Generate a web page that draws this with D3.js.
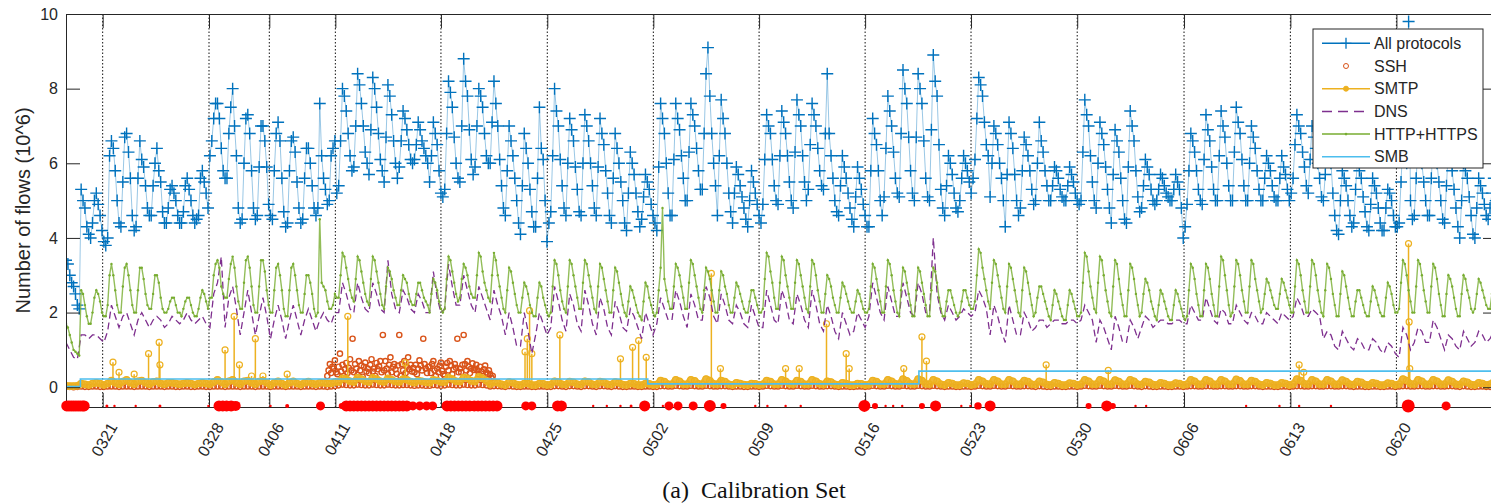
<!DOCTYPE html>
<html>
<head>
<meta charset="utf-8">
<script src="https://cdn.jsdelivr.net/npm/d3@7"></script>
<style>
  body { margin: 0; background: #fff; }
  svg text { font-family: "Liberation Sans", Arial, sans-serif; fill: #262626; }
</style>
</head>
<body>
<svg id="chart" width="1491" height="504"></svg>
<script>
// x is measured in days of the (gapped) capture index
const fineSamplesPerDay = 8;   // all protocols, http
const samplesPerDay = 4;       // dns, smtp, ssh
const tickDays = [2.42, 9.44, 13.42, 17.78, 24.75, 31.77, 38.77, 45.75, 52.75, 59.74, 66.75, 73.8, 80.82, 87.82];
const tickLabels = ["0321", "0328", "0406", "0411", "0418", "0425", "0502", "0509", "0516", "0523", "0530", "0606", "0613", "0620"];
const yTicks = [0, 2, 4, 6, 8, 10];

// All protocols (10^6 flows), one row per day, 3-hourly
const allProtocols = [
  3.4,3.3,3.0,2.8,2.7,2.5,2.2,2.1, 5.3,5.0,4.8,4.3,4.1,4.0,4.4,5.0, 5.2,4.9,4.6,4.2,3.9,3.8,4.0,6.2,
  6.6,6.4,5.8,5.0,4.4,4.3,5.5,6.7, 6.8,6.3,5.6,4.6,4.2,4.3,5.6,6.6, 6.1,5.9,5.4,4.8,4.6,4.6,5.4,6.0,
  6.4,5.8,5.5,4.7,4.4,4.4,4.8,5.3, 5.4,5.2,5.0,4.6,4.4,4.4,4.7,5.4, 5.6,5.3,5.0,4.6,4.4,4.5,4.6,5.6,
  5.8,5.5,5.2,4.8,6.2,6.6,7.2,7.6, 7.6,7.2,6.4,5.8,5.6,5.6,6.8,7.5, 8.0,7.0,6.2,4.8,4.4,4.5,6.0,7.2,
  7.3,6.8,5.8,4.8,4.5,4.6,5.9,7.0, 7.0,6.6,5.9,4.9,4.6,4.5,5.8,6.8, 7.1,6.6,5.6,4.7,4.3,4.4,5.8,6.6,
  6.7,6.3,5.5,4.8,4.4,4.5,5.6,6.4, 6.4,6.0,5.4,4.8,4.6,4.8,7.6,6.2, 5.6,5.3,4.9,5.0,6.2,6.4,6.6,5.2,
  5.4,6.6,8.0,7.8,7.4,6.8,6.2,5.8, 5.9,7.0,8.4,8.1,7.6,7.0,6.3,6.0, 5.7,6.9,8.3,8.0,7.5,6.8,6.1,5.8,
  5.5,6.7,8.1,7.8,7.3,6.6,6.0,5.6, 5.9,6.6,7.4,7.2,6.9,6.5,6.1,6.0, 6.1,6.5,7.1,6.9,6.6,6.4,6.2,6.0,
  5.5,6.2,7.1,6.8,6.5,5.8,5.2,5.1, 5.3,6.8,8.2,7.9,7.5,6.7,6.0,5.6, 5.5,7.0,8.8,8.2,7.8,6.9,6.1,5.7,
  5.9,7.0,8.0,7.8,7.5,6.8,6.2,6.0, 6.0,7.1,8.2,7.6,7.0,6.1,5.4,4.8, 4.6,5.8,7.0,6.6,6.2,5.6,5.0,4.4,
  4.1,5.4,6.8,6.4,6.0,5.3,4.7,4.3, 4.3,5.6,7.5,6.4,6.1,5.0,3.9,4.4, 4.7,6.2,8.0,7.4,7.0,6.1,5.4,4.8,
  4.6,6.0,7.2,6.9,6.6,5.9,5.3,4.7, 4.6,6.0,7.3,7.0,6.6,6.0,5.4,4.8, 4.6,5.9,7.2,6.8,6.5,5.8,5.2,4.6,
  4.4,5.6,6.8,6.4,6.0,5.5,5.0,4.4, 4.2,5.2,6.3,6.0,5.7,5.2,4.7,4.3, 4.5,5.1,5.7,5.5,5.3,4.9,4.6,4.4,
  4.2,5.9,7.6,7.2,6.8,6.0,5.2,4.6, 4.6,6.1,7.6,7.2,6.9,6.2,5.6,5.0, 5.0,6.3,7.6,7.3,7.0,6.4,5.8,5.3,
  5.3,6.8,8.4,9.1,7.8,6.8,6.0,5.4, 4.6,6.2,7.7,7.2,6.8,6.0,5.2,4.7, 4.4,5.2,5.9,5.7,5.4,5.1,4.8,4.5,
  4.3,5.0,5.8,5.5,5.2,4.9,4.6,4.4, 4.9,6.1,7.3,7.0,6.8,6.1,5.4,5.0, 4.9,6.2,7.4,7.1,6.8,6.2,5.5,5.0,
  4.8,6.3,7.7,7.3,7.0,6.2,5.5,5.0, 5.3,6.5,7.6,7.3,7.0,6.4,5.8,5.4, 5.3,6.8,8.4,6.8,6.2,5.6,5.0,4.7,
  4.6,5.4,6.2,5.9,5.6,5.2,4.8,4.5, 4.3,5.1,5.9,5.6,5.3,4.9,4.6,4.3, 4.3,5.8,7.2,6.8,6.5,5.8,5.0,4.6,
  5.1,6.4,7.8,7.4,7.0,6.3,5.6,5.2, 5.1,6.8,8.5,8.0,7.6,6.7,5.8,5.2, 5.0,6.7,8.4,8.0,7.6,6.6,5.6,5.1,
  5.0,6.9,8.9,8.2,7.8,6.5,5.3,4.8, 4.6,5.4,6.2,6.0,5.7,5.2,4.8,4.7, 5.0,5.6,6.2,6.0,5.8,5.5,5.2,5.6,
  6.1,7.2,8.3,8.1,7.8,7.1,6.5,6.2, 5.1,6.0,7.0,6.8,6.5,6.0,5.6,5.0, 4.3,5.7,7.1,6.8,6.4,5.7,5.0,4.6,
  4.8,5.8,6.7,6.5,6.2,5.8,5.3,4.9, 5.0,6.0,7.1,6.6,6.3,5.8,5.4,5.0, 5.0,5.4,5.9,5.8,5.6,5.3,5.1,5.0,
  5.0,5.4,5.9,5.7,5.5,5.2,5.0,4.9, 5.0,6.3,7.7,7.3,7.0,6.2,5.5,5.0, 4.8,6.0,7.1,6.8,6.5,5.9,5.3,4.8,
  4.4,5.7,6.9,6.6,6.3,5.6,5.0,4.5, 4.4,5.9,7.4,7.0,6.6,5.8,5.1,4.7, 4.8,5.4,6.1,5.9,5.7,5.3,5.0,4.9,
  5.0,5.3,5.7,5.6,5.4,5.2,5.1,5.0, 5.0,5.3,5.7,5.5,5.3,4.8,4.0,4.3, 4.9,5.8,6.8,6.6,6.3,5.8,5.3,5.0,
  4.9,6.1,7.3,6.9,6.6,5.9,5.3,5.0, 5.0,6.2,7.4,7.0,6.7,6.0,5.4,5.0, 5.0,6.3,7.5,7.1,6.8,6.1,5.4,5.0,
  5.0,6.0,7.0,6.7,6.4,5.8,5.3,5.0, 5.0,5.6,6.2,6.0,5.8,5.4,5.1,5.0, 5.0,5.6,6.2,5.9,5.7,5.3,5.0,5.2,
  5.6,6.5,7.3,7.0,6.8,6.3,5.9,5.4, 5.2,6.1,7.0,6.7,6.4,6.0,5.6,5.1, 5.0,5.7,6.4,6.2,6.0,5.2,4.6,4.2,
  4.1,5.0,5.8,5.6,5.4,5.0,4.6,4.3, 4.4,5.3,6.1,5.8,5.6,5.1,4.7,4.3, 4.2,4.9,5.6,5.4,5.2,4.8,4.4,4.2,
  4.2,4.8,5.3,5.2,5.0,4.6,4.3,4.3, 4.4,5.5,6.6,6.3,6.0,9.8,5.0,4.5, 4.6,5.6,6.5,6.3,6.0,5.5,5.0,4.6,
  4.6,5.6,6.6,6.3,6.0,5.5,5.0,4.5, 4.4,5.4,6.4,6.1,5.8,5.3,4.8,4.3, 4.0,5.0,6.0,5.8,5.6,5.1,4.6,4.1,
  4.0,4.8,5.6,5.4,5.2,4.9,4.6,4.5, 4.8,5.2,5.6,5.0,4.6
];

const httpHttps = [
  1.7,1.6,1.4,1.2,1.0,0.95,0.9,0.85, 2.6,2.5,2.2,1.9,1.7,1.7,2.0,2.4, 2.6,2.5,2.3,2.0,1.9,1.9,2.2,3.0,
  3.3,3.0,2.6,2.2,2.0,2.0,2.7,3.2, 3.3,3.0,2.6,2.2,2.0,2.0,2.6,3.2, 3.2,2.9,2.5,2.2,2.1,2.1,2.5,3.0,
  3.0,2.8,2.4,2.1,2.0,2.0,2.1,2.3, 2.4,2.4,2.2,2.0,2.0,1.9,2.1,2.3, 2.4,2.4,2.2,2.0,1.9,1.9,2.1,2.4,
  2.6,2.5,2.3,2.1,2.4,2.4,3.0,3.3, 3.4,3.2,2.7,2.5,2.4,2.4,2.9,3.3, 3.5,3.2,2.7,2.3,2.1,2.1,2.8,3.4,
  3.5,3.2,2.7,2.2,2.0,2.0,2.7,3.4, 3.4,3.1,2.6,2.2,2.0,2.0,2.6,3.2, 3.3,3.0,2.6,2.1,1.9,1.9,2.6,3.2,
  3.3,3.0,2.6,2.2,2.0,2.0,2.5,3.0, 3.0,2.8,2.5,2.1,1.9,2.0,4.5,2.8, 2.7,2.6,2.3,2.1,2.1,2.2,2.5,2.4,
  2.4,3.0,3.6,3.5,3.2,2.9,2.6,2.4, 2.3,2.9,3.5,3.4,3.1,2.8,2.5,2.3, 2.2,2.9,3.5,3.4,3.1,2.8,2.5,2.2,
  2.1,2.7,3.2,3.1,2.9,2.6,2.4,2.2, 2.2,2.6,3.0,2.9,2.8,2.5,2.3,2.2, 2.2,2.5,2.8,2.8,2.6,2.4,2.3,2.2,
  2.0,2.5,2.9,2.8,2.6,2.3,2.1,2.0, 2.1,2.9,3.5,3.4,3.1,2.8,2.5,2.3, 2.4,2.9,3.3,3.2,3.0,2.7,2.5,2.4,
  2.4,3.0,3.6,3.5,3.1,2.8,2.6,2.4, 2.3,3.0,3.6,3.4,3.0,2.7,2.4,2.1, 2.0,2.6,3.2,3.1,2.8,2.5,2.2,2.0,
  2.0,2.4,2.8,2.7,2.5,2.2,2.0,1.9, 1.9,2.4,2.8,2.7,2.4,2.2,2.0,1.9, 2.0,2.7,3.4,3.3,3.0,2.6,2.3,2.1,
  2.0,2.7,3.4,3.3,3.0,2.7,2.4,2.1, 2.1,2.8,3.4,3.3,3.0,2.7,2.4,2.1, 2.0,2.7,3.3,3.2,2.9,2.6,2.3,2.0,
  2.0,2.6,3.2,3.1,2.8,2.5,2.2,2.0, 1.9,2.3,2.7,2.6,2.4,2.2,2.0,1.9, 1.8,2.3,2.8,2.7,2.4,2.2,2.0,1.9,
  2.0,2.6,3.2,4.8,2.9,2.6,2.3,2.1, 2.1,2.7,3.3,3.2,3.0,2.7,2.4,2.1, 2.1,2.8,3.4,3.3,3.0,2.7,2.4,2.1,
  2.0,2.6,3.2,3.1,2.9,2.6,2.3,2.0, 2.0,2.6,3.1,3.0,2.7,2.5,2.2,2.0, 2.0,2.4,2.8,2.7,2.5,2.3,2.1,2.0,
  2.0,2.3,2.6,2.6,2.4,2.2,2.0,2.0, 2.1,2.9,3.6,3.5,3.1,2.8,2.4,2.1, 2.1,2.8,3.5,3.4,3.0,2.7,2.4,2.1,
  2.1,2.8,3.4,3.3,3.0,2.7,2.4,2.1, 2.0,2.7,3.4,3.3,3.0,2.6,2.3,2.0, 2.0,2.5,3.0,2.9,2.7,2.4,2.2,2.0,
  2.0,2.4,2.8,2.7,2.5,2.3,2.1,2.0, 2.0,2.3,2.6,2.5,2.3,2.1,2.0,2.0, 2.1,2.7,3.3,3.2,2.9,2.6,2.3,2.0,
  2.0,2.7,3.4,3.3,3.0,2.6,2.3,2.0, 1.9,2.6,3.2,3.1,2.8,2.5,2.2,1.9, 1.9,2.6,3.2,3.1,2.8,2.5,2.2,1.9,
  1.9,2.6,3.2,3.1,2.8,2.4,2.1,1.9, 1.9,2.3,2.6,2.6,2.4,2.2,2.0,1.9, 2.0,2.3,2.6,2.6,2.4,2.2,2.1,2.1,
  2.3,3.0,3.7,3.6,3.2,2.9,2.6,2.3, 2.1,2.8,3.4,3.3,3.0,2.7,2.4,2.1, 2.0,2.7,3.3,3.2,2.9,2.6,2.3,2.0,
  1.9,2.6,3.2,3.1,2.8,2.5,2.2,1.9, 2.0,2.4,2.7,2.7,2.5,2.3,2.1,1.9, 1.8,2.2,2.6,2.5,2.3,2.1,1.9,1.8,
  1.8,2.2,2.6,2.5,2.3,2.1,1.9,1.9, 2.0,2.8,3.6,3.5,3.1,2.7,2.4,2.1, 2.0,2.8,3.5,3.4,3.0,2.6,2.3,2.0,
  1.9,2.7,3.4,3.3,2.9,2.5,2.2,1.9, 1.9,2.6,3.3,3.2,2.9,2.5,2.2,1.9, 2.0,2.5,2.9,2.8,2.6,2.3,2.1,1.9,
  1.8,2.2,2.6,2.5,2.3,2.1,1.9,1.8, 1.8,2.2,2.6,2.5,2.3,2.1,1.9,1.8, 1.9,2.6,3.3,3.2,2.9,2.5,2.2,1.9,
  1.9,2.6,3.3,3.2,2.9,2.5,2.2,1.9, 1.9,2.7,3.5,3.4,3.0,2.6,2.2,1.9, 2.0,2.7,3.4,3.3,3.0,2.6,2.3,2.0,
  2.0,2.7,3.4,3.3,2.9,2.6,2.3,2.0, 2.1,2.5,2.9,2.8,2.6,2.4,2.2,2.1, 2.1,2.5,2.9,2.8,2.6,2.4,2.2,2.0,
  2.0,2.7,3.4,3.3,3.0,2.6,2.3,2.0, 2.0,2.7,3.4,3.3,3.0,2.6,2.3,2.0, 1.9,2.6,3.3,3.2,2.9,2.5,2.2,1.9,
  1.9,2.5,3.1,3.0,2.7,2.4,2.1,1.9, 1.9,2.3,2.6,2.6,2.4,2.2,2.0,1.9, 1.9,2.3,2.7,2.6,2.4,2.2,2.0,1.9,
  1.9,2.4,2.8,2.7,2.5,2.2,2.0,2.0, 2.1,2.8,3.4,3.3,3.0,2.6,2.3,2.0, 2.0,2.7,3.4,3.3,3.0,2.6,2.3,2.0,
  2.0,2.7,3.3,3.2,2.9,2.5,2.2,1.9, 1.9,2.5,3.0,2.9,2.7,2.4,2.1,1.9, 1.9,2.5,3.0,2.9,2.6,2.4,2.1,2.0,
  2.1,2.5,2.9,2.8,2.6,2.4,2.2,2.1, 2.1,2.5,2.9,2.6,2.2
];

const dns = [
  1.2,1.0,0.8,0.75, 1.4,1.4,1.3,1.4, 1.4,1.3,1.2,1.5, 2.2,1.9,1.6,1.9, 2.0,1.7,1.4,1.8,
  2.0,1.8,1.6,1.8, 1.9,1.8,1.6,1.7, 1.9,1.8,1.7,1.8, 2.0,1.8,1.7,1.8, 1.9,1.7,1.6,2.5,
  2.8,3.5,1.6,2.4, 2.7,2.1,1.4,2.0, 2.6,2.0,1.4,1.9, 2.4,1.9,1.3,1.8, 2.2,1.8,1.3,1.8,
  2.2,1.8,1.4,1.8, 2.1,1.8,1.5,1.8, 2.0,1.8,1.7,2.0, 2.0,2.8,2.5,2.1, 2.0,2.8,2.4,2.1,
  2.0,2.8,2.5,2.1, 2.0,3.4,2.5,2.1, 2.0,2.6,2.4,2.1, 2.0,2.5,2.3,2.0, 2.0,3.1,2.4,2.0,
  2.1,3.3,2.7,2.2, 2.2,3.0,2.6,2.2, 2.0,2.7,2.4,2.1, 1.8,2.6,2.2,1.9, 1.4,2.0,1.6,1.1,
  1.1,2.0,1.5,0.9, 1.4,2.0,1.7,1.4, 1.6,2.7,2.3,1.8, 1.5,2.5,2.2,1.7, 1.5,2.6,2.2,1.7,
  1.4,2.4,2.1,1.6, 1.4,2.3,2.0,1.6, 1.5,2.1,1.9,1.6, 1.3,2.0,1.7,1.4, 1.7,2.4,2.1,1.8,
  1.8,2.6,2.3,1.9, 1.6,2.5,2.2,1.8, 1.8,2.7,2.4,1.9, 1.7,2.5,2.2,1.8, 1.7,2.2,2.0,1.7,
  1.6,2.2,1.9,1.6, 1.6,2.6,2.2,1.8, 1.7,2.6,2.3,1.8, 1.7,2.5,2.2,1.8, 1.6,2.6,2.2,1.7,
  1.5,2.2,1.9,1.5, 1.3,2.0,1.7,1.4, 1.5,2.0,1.8,1.6, 1.9,2.8,2.4,2.0, 1.8,2.7,2.3,1.9,
  1.9,2.8,2.4,2.0, 1.9,2.8,2.5,2.0, 2.0,4.0,2.5,2.0, 1.8,2.2,2.0,1.8, 1.9,2.1,2.0,1.9,
  2.0,2.6,2.4,2.1, 1.4,2.2,1.9,1.5, 1.2,2.2,1.8,1.4, 1.4,2.0,1.8,1.5, 1.6,1.8,1.8,1.6,
  1.7,1.8,1.8,1.7, 1.7,1.8,1.8,1.7, 1.8,2.2,2.0,1.8, 1.2,1.8,1.6,1.3, 1.0,1.9,1.6,1.2,
  1.2,1.8,1.6,1.3, 1.6,1.9,1.8,1.6, 1.7,1.8,1.8,1.7, 1.7,1.8,1.8,1.7, 1.7,2.2,2.0,1.8,
  1.8,2.4,2.1,1.8, 1.7,2.1,2.0,1.7, 1.7,2.2,2.0,1.8, 1.7,2.0,1.9,1.7, 1.7,2.0,1.9,1.8,
  1.7,2.0,1.9,1.8, 1.9,2.4,2.2,1.9, 1.9,2.1,2.0,1.9, 1.3,1.5,1.4,1.1, 1.0,1.5,1.3,1.1,
  1.0,1.3,1.2,1.0, 1.0,1.3,1.2,1.0, 0.9,1.2,1.1,0.9, 0.8,1.6,1.4,1.0, 1.2,1.6,1.5,1.2,
  1.2,1.8,1.6,1.3, 1.0,1.4,1.3,1.1, 1.0,1.5,1.3,1.1, 1.2,1.5,1.4,1.2, 1.3,1.5,1.3
];

const smtp = [
  .04,.03,.03,.04, .1,.08,.06,.1, .12,.1,.06,.1, .18,.12,.08,.15, .2,.12,.08,.16,
  .18,.12,.08,.14, .16,.1,.08,.12, .12,.1,.08,.1, .12,.1,.07,.1, .12,.1,.08,.14,
  .2,.14,.08,.16, .2,.12,.08,.16, .18,.12,.08,.15, .18,.12,.06,.12, .16,.1,.06,.12,
  .16,.1,.07,.12, .15,.1,.08,.12, .12,.1,.1,.14, .14,.24,.22,.16, .14,.26,.22,.16,
  .14,.25,.22,.16, .14,.24,.2,.15, .14,.22,.2,.15, .12,.18,.16,.13, .12,.2,.18,.14,
  .14,.26,.22,.16, .15,.26,.24,.17, .15,.28,.24,.17, .08,.14,.12,.08, .06,.14,.12,.07,
  .06,.1,.1,.06, .06,.1,.09,.06, .07,.16,.14,.08, .07,.15,.13,.08, .07,.16,.14,.08,
  .07,.15,.13,.08, .07,.14,.12,.07, .06,.1,.09,.06, .06,.1,.09,.06, .07,.18,.15,.08,
  .08,.2,.16,.08, .08,.2,.17,.09, .08,.22,.18,.09, .08,.18,.15,.08, .06,.12,.1,.07,
  .06,.1,.09,.06, .08,.18,.15,.08, .08,.2,.16,.09, .08,.18,.15,.08, .08,.2,.16,.09,
  .07,.16,.14,.08, .06,.12,.1,.06, .06,.1,.09,.06, .07,.18,.15,.08, .08,.2,.16,.09,
  .08,.22,.17,.09, .08,.22,.18,.09, .08,.2,.16,.08, .06,.12,.1,.06, .06,.11,.1,.06,
  .08,.2,.16,.09, .08,.2,.16,.08, .08,.2,.16,.08, .08,.18,.15,.08, .07,.16,.13,.07,
  .06,.12,.1,.06, .06,.11,.1,.06, .08,.2,.16,.08, .08,.2,.16,.08, .08,.19,.15,.08,
  .08,.2,.16,.08, .07,.15,.13,.07, .06,.12,.1,.06, .06,.11,.1,.06, .08,.2,.16,.08,
  .08,.2,.16,.08, .08,.2,.16,.08, .08,.21,.17,.08, .08,.18,.15,.08, .06,.12,.1,.06,
  .06,.12,.1,.06, .08,.22,.18,.09, .08,.2,.16,.08, .08,.2,.16,.08, .08,.19,.15,.08,
  .07,.15,.13,.07, .06,.12,.1,.06, .06,.11,.1,.06, .08,.22,.18,.09, .08,.2,.16,.08,
  .08,.2,.16,.08, .08,.19,.15,.08, .07,.16,.13,.07, .06,.12,.1,.06, .08,.14,.1
];

// isolated SMTP bursts: day and value
const smtpSpikeDays = [3.1, 3.5, 4.5, 5.45, 6.15, 6.2, 10.5, 11.1, 11.45, 12.25, 12.5, 13.0, 14.6, 18.6, 22.4,
  30.3, 30.45, 30.6, 30.75, 32.6, 36.6, 37.4, 37.8, 38.3, 42.6, 43.2, 47.5, 48.4, 50.2, 51.5, 51.7,
  55.3, 56.5, 56.8, 64.7, 68.8, 81.4, 81.7, 88.62, 88.66, 88.7];
const smtpSpikeValues = [0.67, 0.4, 0.35, 0.9, 1.2, 0.6, 1.0, 1.9, 0.6, 0.3, 1.3, 0.3, 0.35, 1.9, 0.65,
  0.95, 1.3, 2.05, 0.9, 1.4, 0.76, 1.07, 1.25, 0.8, 3.05, 0.5, 0.5, 0.5, 1.7, 0.9, 0.5,
  0.5, 1.35, 0.7, 0.6, 0.45, 0.6, 0.4, 3.85, 1.75, 0.5];

const ssh = [
  .01,.01,.0,.01, .02,.01,.01,.02, .02,.01,.01,.02, .02,.02,.01,.02, .02,.02,.01,.02,
  .02,.02,.01,.02, .02,.02,.01,.02, .02,.01,.01,.02, .02,.01,.01,.02, .02,.01,.01,.02,
  .02,.02,.01,.02, .02,.02,.01,.02, .02,.02,.01,.02, .02,.02,.01,.02, .02,.02,.01,.02,
  .02,.02,.01,.02, .02,.02,.01,.02, .02,.01,.02,.03, .05,.07,.06,.05, .05,.07,.06,.05,
  .05,.07,.06,.05, .05,.07,.06,.05, .05,.06,.06,.05, .04,.05,.05,.04, .04,.06,.05,.04,
  .05,.07,.06,.05, .05,.07,.06,.05, .05,.07,.06,.05, .02,.03,.03,.02, .01,.03,.02,.01,
  .01,.02,.02,.01, .01,.02,.02,.01, .01,.03,.03,.02, .01,.03,.03,.02, .01,.03,.03,.02,
  .01,.03,.03,.02, .01,.03,.02,.01, .01,.02,.02,.01, .01,.02,.02,.01, .01,.03,.03,.02,
  .02,.04,.03,.02, .02,.04,.03,.02, .02,.04,.03,.02, .02,.03,.03,.02, .01,.02,.02,.01,
  .01,.02,.02,.01, .02,.04,.03,.02, .02,.04,.03,.02, .02,.04,.03,.02, .02,.04,.03,.02,
  .02,.03,.03,.02, .01,.02,.02,.01, .01,.02,.02,.01, .02,.04,.03,.02, .02,.04,.03,.02,
  .02,.04,.03,.02, .02,.04,.03,.02, .02,.04,.03,.02, .01,.02,.02,.01, .01,.02,.02,.01,
  .02,.04,.03,.02, .02,.04,.03,.02, .02,.04,.03,.02, .02,.03,.03,.02, .01,.03,.02,.01,
  .01,.02,.02,.01, .01,.02,.02,.01, .02,.04,.03,.02, .02,.04,.03,.02, .02,.04,.03,.02,
  .02,.04,.03,.02, .01,.03,.02,.01, .01,.02,.02,.01, .01,.02,.02,.01, .02,.03,.03,.02,
  .02,.03,.03,.02, .02,.03,.03,.02, .02,.03,.03,.02, .02,.03,.03,.02, .01,.02,.02,.01,
  .01,.02,.02,.01, .02,.03,.03,.02, .02,.03,.03,.02, .02,.03,.03,.02, .02,.03,.03,.02,
  .01,.02,.02,.01, .01,.02,.02,.01, .01,.02,.02,.01, .02,.03,.03,.02, .02,.03,.03,.02,
  .02,.03,.03,.02, .02,.03,.03,.02, .01,.03,.02,.01, .01,.02,.02,.01, .01,.02,.01
];

// SSH scan burst 0411-0421, 12 samples per day from day 17.25
const sshBurstStart = 17.25;
const sshBurstPerDay = 12;
const sshBurst = [
  .30,.45,.62,.38,.55,.50,.72,.40,.35,
  .55,.90,.42,.60,.30,.48,.65,.38,.52,.75,.45,1.3,
  .40,.62,.50,.33,.70,.45,.58,.28,.55,.66,.42,.50,
  .38,.60,.75,.42,.50,.30,.65,.48,.56,.70,.40,1.4,
  .45,.70,.50,.35,.60,.80,.40,.55,.62,.48,.36,.58,
  1.4,.30,.62,.45,.70,.38,.55,.80,.48,.60,.42,.52,
  .40,.60,.35,.50,.72,.58,.45,1.3,.62,.50,.38,.55,
  .55,.38,.62,.70,.45,.30,.50,.40,.58,.66,.44,.35,
  .30,.55,.65,.45,.70,.58,.35,.48,.62,.52,1.3,.40,
  .50,.40,.60,1.4,.62,.45,.70,.55,.38,.50,.64,.46,
  .50,.60,.45,.35,.55,.42,.30,.48,.58,.40,.36,.45,
  .35,.25,.30
];

const smbChangeDays = [0, 0.95, 38.4, 56.3, 94.5];
const smbLevels = [0.02, 0.22, 0.09, 0.43, 0.43];

// detected anomalies drawn under the axis: day and marker radius
const anomalyDays = [0.05, 0.2, 0.35, 0.5, 0.65, 0.8, 0.95, 1.1, 1.2, 2.7, 3.2, 4.6, 6.2,
  9.4, 10.1, 10.35, 10.6, 10.9, 11.2, 13.5, 14.6, 16.8, 18.2,
  18.5, 18.75, 19.0, 19.25, 19.5, 19.75, 20.0, 20.25, 20.5, 20.75, 21.0, 21.25, 21.5, 21.75, 22.0, 22.25, 22.5,
  22.9, 23.35, 23.8, 24.2, 25.15, 25.4, 25.65, 25.9, 26.15, 26.4, 26.65, 26.95, 27.2, 27.45, 27.7,
  27.95, 28.2, 28.45, 30.35, 30.75, 32.45, 32.7, 34.8, 35.7, 36.6, 37.3, 38.2,
  39.4, 39.8, 40.4, 41.4, 42.5, 43.4, 45.5, 46.3, 47.5, 48.5, 52.7,
  53.4, 54.1, 54.6, 55.2, 56.5, 57.4, 59.1, 59.7, 60.2, 61.0,
  67.5, 68.7, 69.1, 70.6, 71.3, 77.9, 80.1, 81.4, 83.5, 88.6, 91.1];
const anomalySizes = [5.5, 5.5, 5.5, 5.5, 5.5, 5.5, 5.5, 5.5, 5.5, 1.5, 1.2, 1.2, 1.5,
  1.2, 5.5, 5.5, 5.5, 5.5, 5, 1.2, 2, 4.5, 3,
  5.5, 5.5, 5.5, 5.5, 5.5, 5.5, 5.5, 5.5, 5.5, 5.5, 5.5, 5.5, 5.5, 5.5, 5.5, 5.5, 5.5,
  4.5, 4.5, 4.5, 4.5, 5.5, 5.5, 5.5, 5.5, 5.5, 5.5, 5.5, 5.5, 5.5, 5.5, 5.5,
  5.5, 5.5, 5.5, 4.5, 4.5, 5.5, 5.5, 1.2, 1.2, 1.2, 1.5, 5.5,
  1.2, 4.5, 4.5, 4.5, 6, 3, 1.2, 1.2, 1.2, 1.2, 6,
  3, 1.2, 1.2, 1.2, 3, 5.5, 1.2, 1.2, 3.7, 5.5,
  3, 5.5, 3, 1.2, 1.2, 1.2, 1.2, 1.2, 1.2, 6.5, 4.5];

const legendNames = ["All protocols", "SSH", "SMTP", "DNS", "HTTP+HTTPS", "SMB"];

const colors = {
  all: "#0072BD", ssh: "#D95319", smtp: "#EDB120",
  dns: "#7E2F8E", http: "#77AC30", smb: "#4DBEEE", axis: "#262626"
};

const margin = { left: 66, right: 1497, top: 14, bottom: 407 };
const svg = d3.select("#chart");

const x = d3.scaleLinear().domain([0, 94.46]).range([margin.left, margin.right]);
const y = d3.scaleLinear().domain([-0.53, 10]).range([margin.bottom, margin.top]);

const toPoints = (arr, perDay) => arr.map((v, i) => [i / perDay, v]);

svg.append("defs").append("clipPath").attr("id", "plotClip")
    .append("rect")
    .attr("x", margin.left).attr("y", margin.top - 6)
    .attr("width", margin.right - margin.left)
    .attr("height", margin.bottom - margin.top + 6);

// dotted day markers
svg.append("g")
    .selectAll("line")
    .data(tickDays)
    .enter().append("line")
    .attr("x1", d => x(d)).attr("x2", d => x(d))
    .attr("y1", margin.top).attr("y2", margin.bottom)
    .attr("stroke", "#111")
    .attr("stroke-width", 1)
    .attr("stroke-dasharray", "1.5,2");

const plot = svg.append("g").attr("clip-path", "url(#plotClip)");
const line = d3.line().x(d => x(d[0])).y(d => y(d[1]));

// All protocols
const allPts = toPoints(allProtocols, fineSamplesPerDay);
plot.append("path")
    .attr("d", line(allPts))
    .attr("fill", "none")
    .attr("stroke", colors.all)
    .attr("stroke-opacity", 0.4)
    .attr("stroke-width", 1);
plot.append("g")
    .selectAll("path")
    .data(allPts)
    .enter().append("path")
    .attr("d", d => `M${x(d[0]) - 6},${y(d[1])}h12M${x(d[0])},${y(d[1]) - 6}v12`)
    .attr("stroke", colors.all)
    .attr("stroke-width", 1.4);

// SSH
const sshPts = toPoints(ssh, samplesPerDay).concat(sshBurst.map((v, i) => [sshBurstStart + i / sshBurstPerDay, v]));
plot.append("g")
    .selectAll("circle")
    .data(sshPts)
    .enter().append("circle")
    .attr("cx", d => x(d[0])).attr("cy", d => y(d[1]))
    .attr("r", 2.6)
    .attr("fill", "none")
    .attr("stroke", colors.ssh)
    .attr("stroke-width", 1.4);

// SMTP: hourly markers merge into a thick band
const smtpPts = toPoints(smtp, samplesPerDay);
plot.append("path")
    .attr("d", line(smtpPts))
    .attr("fill", "none")
    .attr("stroke", colors.smtp)
    .attr("stroke-width", 7)
    .attr("stroke-linejoin", "round")
    .attr("stroke-opacity", 0.9);
plot.append("g")
    .selectAll("circle")
    .data(smtpPts)
    .enter().append("circle")
    .attr("cx", d => x(d[0])).attr("cy", d => y(d[1]))
    .attr("r", 3.2)
    .attr("fill", "none")
    .attr("stroke", colors.smtp)
    .attr("stroke-width", 1.3);
const spikes = plot.append("g")
    .selectAll("g")
    .data(smtpSpikeDays.map((d, i) => [d, smtpSpikeValues[i]]))
    .enter().append("g");
spikes.append("line")
    .attr("x1", d => x(d[0])).attr("x2", d => x(d[0]))
    .attr("y1", y(0.12)).attr("y2", d => y(d[1]))
    .attr("stroke", colors.smtp)
    .attr("stroke-width", 1.5);
spikes.append("circle")
    .attr("cx", d => x(d[0])).attr("cy", d => y(d[1]))
    .attr("r", 3)
    .attr("fill", "none")
    .attr("stroke", colors.smtp)
    .attr("stroke-width", 1.2);

// DNS
plot.append("path")
    .attr("d", line(toPoints(dns, samplesPerDay)))
    .attr("fill", "none")
    .attr("stroke", colors.dns)
    .attr("stroke-width", 1.3)
    .attr("stroke-dasharray", "7,4");

// HTTP+HTTPS
const httpPts = toPoints(httpHttps, fineSamplesPerDay);
plot.append("path")
    .attr("d", line(httpPts))
    .attr("fill", "none")
    .attr("stroke", colors.http)
    .attr("stroke-opacity", 0.8)
    .attr("stroke-width", 1.4);
plot.append("g")
    .selectAll("circle")
    .data(httpPts)
    .enter().append("circle")
    .attr("cx", d => x(d[0])).attr("cy", d => y(d[1]))
    .attr("r", 1.2)
    .attr("fill", colors.http);

// SMB
plot.append("path")
    .attr("d", d3.line().x(d => x(d[0])).y(d => y(d[1])).curve(d3.curveStepAfter)(
        smbChangeDays.map((d, i) => [d, smbLevels[i]])))
    .attr("fill", "none")
    .attr("stroke", colors.smb)
    .attr("stroke-width", 1.6);

// axes, Matlab style: ticks inside on all four sides
function styleAxis(g) {
    g.attr("font-size", 16).attr("font-family", "Liberation Sans, Arial, sans-serif");
    g.selectAll("line").attr("stroke", colors.axis);
    g.selectAll("path").attr("stroke", colors.axis);
    g.selectAll("text").attr("fill", colors.axis);
}

svg.append("g")
    .attr("transform", `translate(${margin.left},0)`)
    .call(d3.axisLeft(y).tickValues(yTicks).tickFormat(d3.format("d")).tickSizeInner(-14).tickSizeOuter(0).tickPadding(8))
    .call(styleAxis);
svg.append("g")
    .attr("transform", `translate(${margin.right},0)`)
    .call(d3.axisRight(y).tickValues(yTicks).tickFormat("").tickSizeInner(-14).tickSizeOuter(0))
    .call(styleAxis);
svg.append("g")
    .attr("transform", `translate(0,${margin.top})`)
    .call(d3.axisTop(x).tickValues(tickDays).tickFormat("").tickSizeInner(-14).tickSizeOuter(0))
    .call(styleAxis);
const xAxis = svg.append("g")
    .attr("transform", `translate(0,${margin.bottom})`)
    .call(d3.axisBottom(x).tickValues(tickDays).tickFormat((d, i) => tickLabels[i]).tickSizeInner(-14).tickSizeOuter(0))
    .call(styleAxis);
xAxis.selectAll("text")
    .attr("y", 0)
    .attr("dy", "0.35em")
    .attr("text-anchor", "end")
    .attr("transform", "translate(10,17) rotate(-60)");

// anomaly flags on the bottom axis
svg.append("g")
    .selectAll("circle")
    .data(anomalyDays.map((d, i) => [d, anomalySizes[i]]))
    .enter().append("circle")
    .attr("cx", d => x(d[0]))
    .attr("cy", y(-0.5))
    .attr("r", d => d[1])
    .attr("fill", "#FF0000");

svg.append("text")
    .attr("transform", `translate(23,${(margin.top + margin.bottom) / 2}) rotate(-90)`)
    .attr("text-anchor", "middle")
    .attr("dy", "0.35em")
    .attr("font-size", 20)
    .text("Number of flows (10^6)");

svg.append("text")
    .attr("x", 754)
    .attr("y", 498)
    .attr("text-anchor", "middle")
    .attr("font-size", 24)
    .style("font-family", "'Liberation Serif', 'Times New Roman', serif")
    .style("fill", "#111")
    .text("(a)\u2002Calibration Set");

// legend
const legend = svg.append("g");
legend.append("rect")
    .attr("x", 1313).attr("y", 29)
    .attr("width", 170).attr("height", 139)
    .attr("fill", "#fff")
    .attr("stroke", colors.axis)
    .attr("stroke-width", 1);

const rowY = i => 43.3 + i * 22.7;
const x0 = 1322, x1 = 1370, xm = 1346;
const keys = ["all", "ssh", "smtp", "dns", "http", "smb"];

legendNames.forEach((name, i) => {
    const k = keys[i];
    const yy = rowY(i);
    if (k !== "ssh") {
        legend.append("line")
            .attr("x1", x0).attr("x2", x1).attr("y1", yy).attr("y2", yy)
            .attr("stroke", colors[k])
            .attr("stroke-width", 1.5)
            .attr("stroke-dasharray", k === "dns" ? "10,6" : null);
    }
    if (k === "all") {
        legend.append("path")
            .attr("d", `M${xm - 5.5},${yy}h11M${xm},${yy - 5.5}v11`)
            .attr("stroke", colors.all).attr("stroke-width", 1.3);
    } else if (k === "ssh") {
        legend.append("circle").attr("cx", xm).attr("cy", yy).attr("r", 2.5)
            .attr("fill", "none").attr("stroke", colors.ssh);
    } else if (k === "smtp") {
        legend.append("circle").attr("cx", xm).attr("cy", yy).attr("r", 2.5)
            .attr("fill", colors.smtp).attr("stroke", colors.smtp);
    } else if (k === "http") {
        legend.append("circle").attr("cx", xm).attr("cy", yy).attr("r", 1.3)
            .attr("fill", colors.http);
    }
    legend.append("text")
        .attr("x", 1374).attr("y", yy)
        .attr("dy", "0.35em")
        .attr("font-size", 16)
        .text(name);
});
</script>
</body>
</html>
